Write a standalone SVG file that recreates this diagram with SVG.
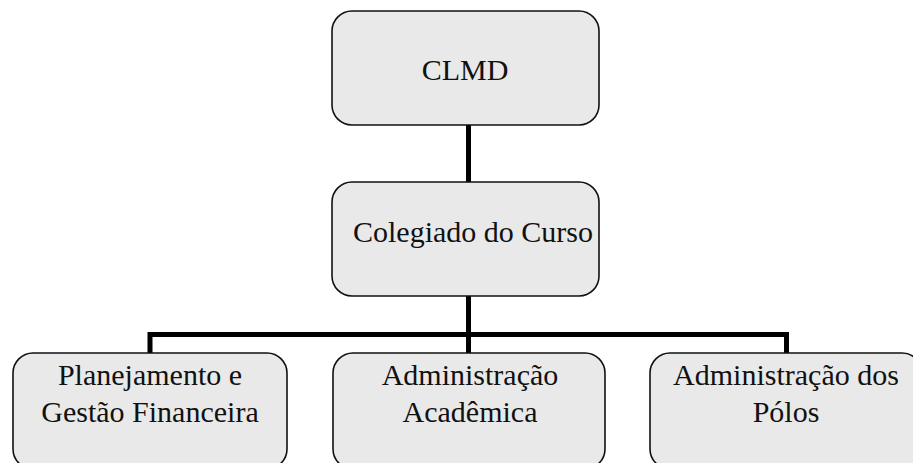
<svg xmlns="http://www.w3.org/2000/svg" width="913" height="463" viewBox="0 0 913 463">
<style>
.box{fill:#e9e9e9;stroke:#111;stroke-width:1.6}
.c{fill:none;stroke:#000;stroke-width:5}
</style>
<rect width="913" height="463" fill="#fff"/>
<g id="connectors">
<line class="c" x1="468.5" y1="125" x2="468.5" y2="182"/>
<line class="c" x1="468.5" y1="296" x2="468.5" y2="353"/>
<polyline class="c" points="150,353 150,334.5 786.5,334.5 786.5,353"/>
</g>
<g id="clmd">
<rect class="box" x="332" y="11" width="267" height="114" rx="20"/>
<text x="465" y="80" font-family="'Liberation Serif', serif" font-size="30" fill="#111" text-anchor="middle">CLMD</text>
</g>
<g id="colegiado">
<rect class="box" x="332" y="182" width="267" height="114" rx="20"/>
<text x="473" y="242" font-family="'Liberation Serif', serif" font-size="30" fill="#111" text-anchor="middle">Colegiado do Curso</text>
</g>
<g id="planejamento">
<rect class="box" x="13" y="353" width="274" height="116" rx="20"/>
<text x="150" y="385" font-family="'Liberation Serif', serif" font-size="30" fill="#111" text-anchor="middle">Planejamento e</text>
<text x="150" y="422" font-family="'Liberation Serif', serif" font-size="30" fill="#111" text-anchor="middle">Gestão Financeira</text>
</g>
<g id="academica">
<rect class="box" x="333" y="353" width="272" height="116" rx="20"/>
<text x="470" y="385" font-family="'Liberation Serif', serif" font-size="30" fill="#111" text-anchor="middle">Administração</text>
<text x="470" y="422" font-family="'Liberation Serif', serif" font-size="30" fill="#111" text-anchor="middle">Acadêmica</text>
</g>
<g id="polos">
<rect class="box" x="650" y="353" width="272" height="116" rx="20"/>
<text x="786" y="385" font-family="'Liberation Serif', serif" font-size="30" fill="#111" text-anchor="middle">Administração dos</text>
<text x="786" y="422" font-family="'Liberation Serif', serif" font-size="30" fill="#111" text-anchor="middle">Pólos</text>
</g>
</svg>
